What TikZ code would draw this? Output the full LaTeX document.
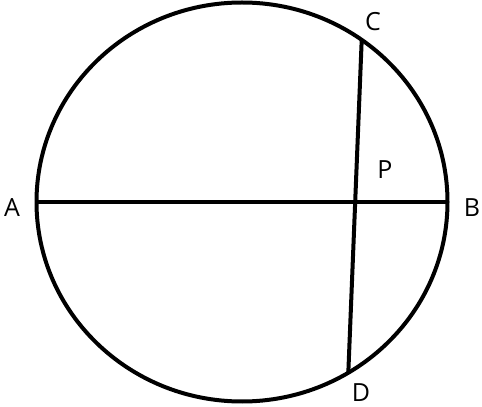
\documentclass[tikz,border=0pt]{standalone}
\usepackage{fontspec}
\setmainfont{Open Sans}
\begin{document}
\begin{tikzpicture}[x=1pt,y=1pt,line width=4pt,
  lbl/.style={font=\fontsize{25}{29}\selectfont}]
\useasboundingbox (0,0) rectangle (482,407);
\draw (242,205) ellipse [x radius=205.5, y radius=199.5];
\coordinate (A) at (36.5,205);
\coordinate (B) at (447.5,205);
\coordinate (C) at (361.7,367);
\coordinate (D) at (348.3,34);
\draw (A) -- (B);
\draw (C) -- (D);
\node[lbl] (labA) at (12,199) {A};
\node[lbl] (labB) at (472,199) {B};
\node[lbl] (labC) at (373,385) {C};
\node[lbl] (labD) at (361,14) {D};
\node[lbl] (labP) at (385,237) {P};
\end{tikzpicture}
\end{document}
